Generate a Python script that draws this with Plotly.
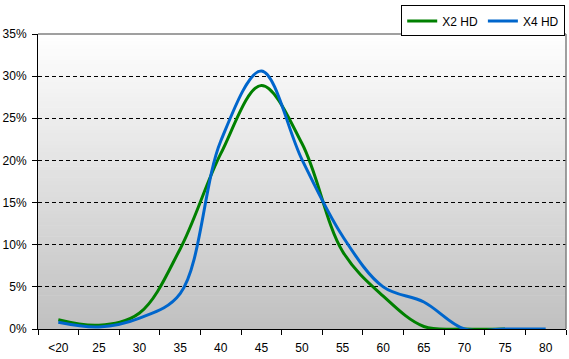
import plotly.graph_objects as go

categories = ["<20", "25", "30", "35", "40", "45", "50", "55", "60", "65", "70", "75", "80"]
x2_hd = [1.1, 0.45, 1.9, 9.5, 20.8, 28.9, 22.0, 9.2, 3.9, 0.3, 0.0, 0.0, None]
x4_hd = [0.8, 0.25, 1.3, 4.2, 22.3, 30.6, 20.1, 11.0, 5.0, 3.2, 0.0, 0.0, 0.0]
y_ticks = [0, 5, 10, 15, 20, 25, 30, 35]
y_tick_labels = ["0%", "5%", "10%", "15%", "20%", "25%", "30%", "35%"]

FONT = "Arial, Liberation Sans, sans-serif"

fig = go.Figure()
fig.add_trace(go.Scatter(x=categories, y=x2_hd, name="X2 HD", mode="lines",
                         line=dict(color="#008000", width=3, shape="spline", smoothing=1.0),
                         connectgaps=False))
fig.add_trace(go.Scatter(x=categories, y=x4_hd, name="X4 HD", mode="lines",
                         line=dict(color="#0066CC", width=3, shape="spline", smoothing=1.0)))

# vertical gradient background (white at top -> grey at bottom)
N = 80
shapes = []
for i in range(N):
    f = (i + 0.5) / N  # 0 bottom -> 1 top
    v = int(round(0xC0 + (0xFF - 0xC0) * f))
    col = f"rgb({v},{v},{v})"
    shapes.append(dict(type="rect", xref="paper", yref="paper", x0=0, x1=1,
                       y0=i / N, y1=(i + 1) / N + 0.002, fillcolor=col,
                       line=dict(width=0), layer="below"))
# grey plot-area border (top and right)
shapes.append(dict(type="line", xref="paper", yref="paper", x0=0, x1=1, y0=1, y1=1,
                   line=dict(color="#808080", width=1.5), layer="above"))
shapes.append(dict(type="line", xref="paper", yref="paper", x0=1, x1=1, y0=0, y1=1,
                   line=dict(color="#808080", width=1.5), layer="above"))

fig.update_layout(
    width=569, height=359,
    margin=dict(l=35, r=3, t=34, b=30),
    paper_bgcolor="white",
    plot_bgcolor="rgba(0,0,0,0)",
    font=dict(family=FONT, size=12, color="black"),
    shapes=shapes,
    showlegend=True,
    legend=dict(orientation="h", x=0.9985, xanchor="right", y=1.097, yanchor="top",
                bgcolor="white", bordercolor="black", borderwidth=1,
                font=dict(family=FONT, size=12, color="black"),
                itemwidth=30, tracegroupgap=0),
    xaxis=dict(type="category", categoryorder="array", categoryarray=categories,
               range=[-0.5, len(categories) - 0.5],
               showgrid=False, showline=True, linecolor="black", linewidth=1,
               ticks="outside", ticklen=5, tickcolor="black", tickson="boundaries",
               ticklabelstandoff=8,
               tickfont=dict(family=FONT, size=12, color="black"), zeroline=False),
    yaxis=dict(range=[0, 35], tickmode="array", tickvals=y_ticks, ticktext=y_tick_labels,
               showgrid=True, gridcolor="black", gridwidth=1, griddash="4px,3px",
               showline=True, linecolor="black", linewidth=1,
               ticks="outside", ticklen=5, tickcolor="black", ticklabelstandoff=3,
               tickfont=dict(family=FONT, size=12, color="black"), zeroline=False),
)

fig.write_html("out.html", config={"displayModeBar": False},
               post_script="document.body.style.margin='0';")
